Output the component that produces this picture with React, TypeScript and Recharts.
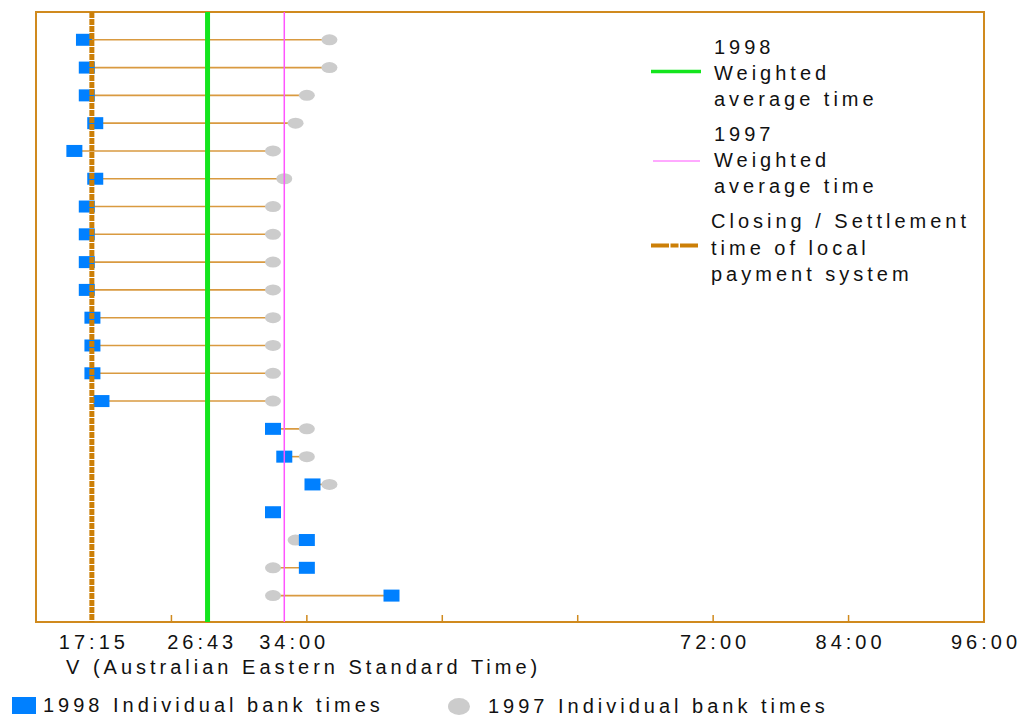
import React from 'react';
import { ScatterChart, Scatter, XAxis, YAxis, ReferenceArea, Legend } from 'recharts';

// one row per bank, top to bottom
const bankRows = [1, 2, 3, 4, 5, 6, 7, 8, 9, 10, 11, 12, 13, 14, 15, 16, 17, 18, 19, 20, 21];
// hours after midnight (AEST)
const times1998 = [16.25, 16.5, 16.5, 17.25, 15.4, 17.25, 16.5, 16.5, 16.5, 16.5, 17, 17, 17, 17.8, 33, 34, 36.5, 33, 36, 36, 43.5];
const times1997 = [38, 38, 36, 35, 33, 34, 33, 33, 33, 33, 33, 33, 33, 33, 36, 36, 38, 33, 35, 33, 33];

const closingTime = 16.95;
const weightedAvg1998 = 27.2;
const weightedAvg1997 = 34;

const gridTicks = [12, 24, 36, 48, 60, 72, 84, 96];
const tickLabelValues = [16.95, 26.55, 34.7, 72, 84, 96];
const tickLabelTexts = ['17:15', '26:43', '34:00', '72:00', '84:00', '96:00'];

const ORANGE = '#d08a1e';
const FONT = '"Liberation Sans", Arial, sans-serif';
const textStyle = { fontFamily: FONT, fontSize: 20, letterSpacing: 4, fill: '#111' };

const allTicks = Array.from(new Set([...gridTicks, ...tickLabelValues])).sort((a, b) => a - b);

const bankData1998 = bankRows.map((r, i) => ({ x: times1998[i], y: r }));
const bankData1997 = bankRows.map((r, i) => ({ x: times1997[i], y: r }));
const Y_MAX = 21.95;
const vline = (x: number) => [{ x, y: 0 }, { x, y: Y_MAX }];

const TimeTick = (props: any) => {
  const { x, y, payload } = props;
  const v = payload.value;
  const li = tickLabelValues.indexOf(v);
  const showMark = gridTicks.includes(v) && v > 12 && v < 96;
  return (
    <g>
      {showMark && <line x1={x} x2={x} y1={y} y2={y - 7} stroke={ORANGE} strokeWidth={1.5} />}
      {li >= 0 && (
        <text x={x} y={y + 27} dx={2} textAnchor="middle" style={textStyle}>
          {tickLabelTexts[li]}
        </text>
      )}
    </g>
  );
};

const BlueSquare = (props: any) => (
  <rect x={props.cx - 8} y={props.cy - 6} width={16} height={12} fill="#0080ff" />
);
const GrayDot = (props: any) => <ellipse cx={props.cx} cy={props.cy} rx={8} ry={5.5} fill="#cccccc" />;
const NoShape = () => <g />;

const LegendBlock = () => (
  <svg width={1021} height={717} style={{ position: 'absolute', left: 0, top: 0 }}>
    <line x1={651} x2={701} y1={71.5} y2={71.5} stroke="#13e51d" strokeWidth={3.5} />
    <text x={714} y={54} style={textStyle}>1998</text>
    <text x={714} y={80} style={textStyle}>Weighted</text>
    <text x={714} y={106} style={textStyle}>average time</text>

    <line x1={653} x2={700} y1={161} y2={161} stroke="#ff55ff" strokeWidth={1} />
    <text x={714} y={141} style={textStyle}>1997</text>
    <text x={714} y={167} style={textStyle}>Weighted</text>
    <text x={714} y={193} style={textStyle}>average time</text>

    <line x1={651} x2={698} y1={245.5} y2={245.5} stroke="#cc7f07" strokeWidth={4} strokeDasharray="18 1.5 8 1.5 18" />
    <text x={711} y={228} style={textStyle}>Closing / Settlement</text>
    <text x={711} y={255} style={textStyle}>time of local</text>
    <text x={711} y={281} style={textStyle}>payment system</text>

    <rect x={12} y={697} width={24} height={17} fill="#0080ff" />
    <text x={43} y={712} style={textStyle}>1998 Individual bank times</text>
    <ellipse cx={459} cy={706.5} rx={11} ry={8.5} fill="#cccccc" />
    <text x={488} y={713} style={textStyle}>1997 Individual bank times</text>
  </svg>
);

export default function App() {
  return (
    <div style={{ position: 'fixed', left: 0, top: 0, background: '#fff' }}>
      <ScatterChart width={1021} height={717} margin={{ top: 12, right: 37, bottom: 55, left: 36 }}>
        <XAxis
          type="number"
          dataKey="x"
          domain={[12, 96]}
          ticks={allTicks}
          interval={0}
          tick={<TimeTick />}
          tickSize={0}
          tickMargin={0}
          tickLine={false}
          axisLine={false}
          height={40}
          label={{
            content: ({ viewBox }: any) => (
              <text x={viewBox.x + 30} y={viewBox.y + 52} style={textStyle}>
                V (Australian Eastern Standard Time)
              </text>
            ),
          }}
        />
        <YAxis type="number" dataKey="y" domain={[0, Y_MAX]} reversed hide />
        <ReferenceArea x1={12} x2={96} y1={0} y2={Y_MAX} fill="none" stroke={ORANGE} strokeWidth={2} ifOverflow="visible" />

        {bankRows.map((r, i) => (
          <Scatter
            key={'c' + r}
            data={[{ x: times1998[i], y: r }, { x: times1997[i], y: r }]}
            line={{ stroke: '#d99a40', strokeWidth: 1.6 }}
            shape={NoShape}
            isAnimationActive={false}
          />
        ))}
        <Scatter name="1997 Individual bank times" data={bankData1997} shape={GrayDot} isAnimationActive={false} />
        <Scatter name="1998 Individual bank times" data={bankData1998} shape={BlueSquare} isAnimationActive={false} />

        <Scatter data={vline(weightedAvg1998)} line={{ stroke: '#13e51d', strokeWidth: 5 }} shape={NoShape} isAnimationActive={false} />
        <Scatter data={vline(weightedAvg1997)} line={{ stroke: '#ff55ff', strokeWidth: 1.5 }} shape={NoShape} isAnimationActive={false} />
        <Scatter
          data={vline(closingTime)}
          line={{ stroke: '#cc7f07', strokeWidth: 5, strokeDasharray: '6 1' }}
          shape={NoShape}
          isAnimationActive={false}
        />

        <Legend
          layout="horizontal"
          verticalAlign="middle"
          align="center"
          wrapperStyle={{ left: 0, top: 0, width: 1021, height: 717, pointerEvents: 'none' }}
          content={() => <LegendBlock />}
        />
      </ScatterChart>
    </div>
  );
}
